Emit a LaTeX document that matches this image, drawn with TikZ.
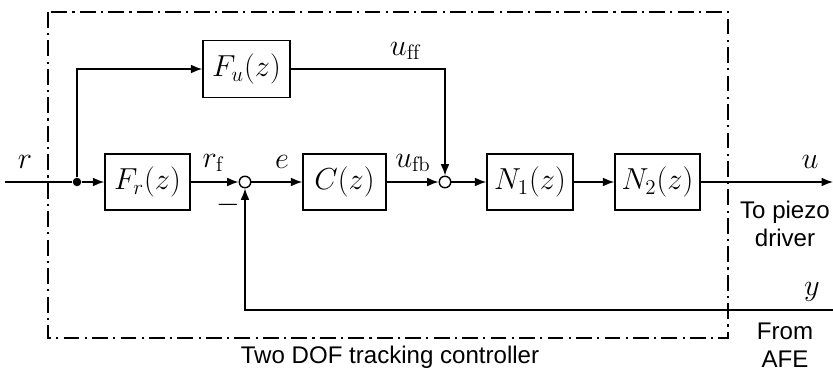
\documentclass[tikz,border=0pt]{standalone}
\usepackage{fontspec}
\newfontfamily\labelfont{Liberation Sans}
\usetikzlibrary{arrows.meta}
\tikzset{
	block/.style={draw, line width=0.8pt, minimum width=1.7cm, minimum height=1.12cm, inner sep=0pt, font=\fontsize{17}{20}\selectfont},
	sumpt/.style={draw, circle, line width=0.8pt, inner sep=0pt, minimum size=0.23cm},
	branchpt/.style={fill, circle, inner sep=0pt, minimum size=0.17cm},
	sig/.style={font=\fontsize{17}{20}\selectfont},
	txt/.style={font=\labelfont\fontsize{13.7}{16}\selectfont, align=center},
	wire/.style={line width=0.8pt},
	>={Latex[length=6.5pt,width=5pt]}
}
\begin{document}
\begin{tikzpicture}
		\useasboundingbox (0,0) rectangle (16.66,-7.48);
		% controller frame
		\draw[line width=0.7pt, dash pattern=on 9pt off 3pt on 1.2pt off 3pt] (0.96,-0.24) rectangle (14.56,-6.76);
		% blocks
		\coordinate (in) at (0.1,-3.64);
		\node[branchpt] (split) at (1.54,-3.64) {};
		\node[block] (Fr) at (2.95,-3.64) {$F_r(z)$};
		\node[sumpt] (sum1) at (4.9,-3.64) {};
		\node[block, minimum width=1.66cm] (C) at (6.89,-3.64) {$C(z)$};
		\node[sumpt] (sum2) at (8.9,-3.64) {};
		\node[block, minimum width=1.72cm] (N1) at (10.6,-3.64) {$N_1(z)$};
		\node[block] (N2) at (13.15,-3.64) {$N_2(z)$};
		\node[block, minimum width=1.74cm, minimum height=1.14cm] (Fu) at (4.93,-1.38) {$F_u(z)$};
		\coordinate (out) at (16.66,-3.64);
		\coordinate (meas) at (16.66,-6.2);
		% signals
		\draw[wire] (in) -- (split);
		\draw[wire,->] (split) -- (Fr);
		\draw[wire,->] (split) |- (Fu);
		\draw[wire,->] (Fr) -- (sum1);
		\draw[wire,->] (sum1) -- (C);
		\draw[wire,->] (C) -- (sum2);
		\draw[wire,->] (Fu) -| (sum2);
		\draw[wire,->] (sum2) -- (N1);
		\draw[wire,->] (N1) -- (N2);
		\draw[wire,->] (N2) -- (out);
		\draw[wire,->] (meas) -| (sum1);
		% labels
		\node[sig] (lr) at (0.5,-3.24) {$r$};
		\node[sig] (lrf) at (4.26,-3.26) {$r_{\mathrm{f}}$};
		\node[sig] (le) at (5.64,-3.24) {$e$};
		\node[sig] (lufb) at (8.26,-3.26) {$u_{\mathrm{fb}}$};
		\node[sig] (luff) at (8.1,-1.02) {$u_{\mathrm{ff}}$};
		\node[sig] (lminus) at (4.56,-4.1) {$-$};
		\node[sig] (lu) at (16.2,-3.24) {$u$};
		\node[sig] (ly) at (16.24,-5.84) {$y$};
		\node[txt] (piezo) at (15.7,-4.47) {To piezo\\driver};
		\node[txt] (afe) at (15.7,-6.9) {From\\AFE};
		\node[txt] (title) at (7.8,-7.14) {Two DOF tracking controller};
\end{tikzpicture}
\end{document}
